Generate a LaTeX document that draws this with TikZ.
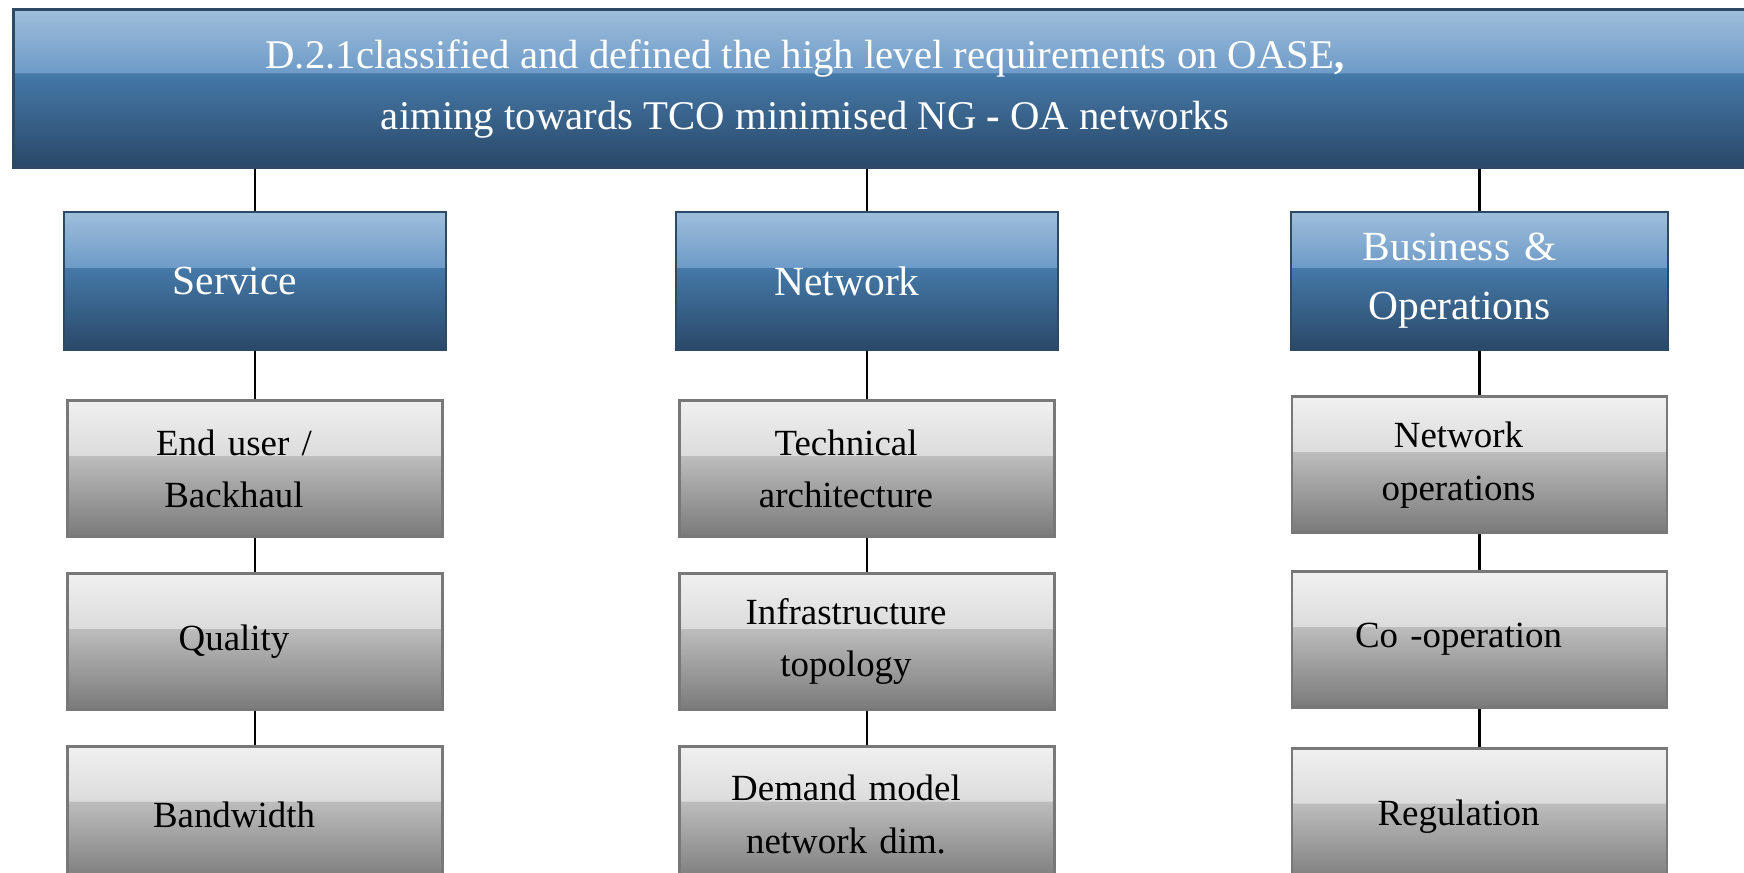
\documentclass[tikz,border=0pt]{standalone}
\usepackage{fontspec}
\setmainfont{Liberation Serif}
\usepackage{xcolor}
\usetikzlibrary{positioning}

\definecolor{bluetop}{HTML}{9FBEDA}
\definecolor{blueup}{HTML}{6E9BC8}
\definecolor{bluelow}{HTML}{4579A8}
\definecolor{bluebot}{HTML}{2A4868}
\definecolor{blueedge}{HTML}{2C4A66}
\definecolor{greytop}{HTML}{F0F0F0}
\definecolor{greyup}{HTML}{DCDCDC}
\definecolor{greylow}{HTML}{BDBDBD}
\definecolor{greybot}{HTML}{7A7A7A}
\definecolor{greyedge}{HTML}{787878}

\pgfdeclareverticalshading{bluegloss}{100bp}{color(0bp)=(bluebot); color(25bp)=(bluebot); color(54.8bp)=(bluelow); color(55bp)=(blueup); color(75bp)=(bluetop); color(100bp)=(bluetop)}
\pgfdeclareverticalshading{greygloss}{100bp}{color(0bp)=(greybot); color(25bp)=(greybot); color(54.8bp)=(greylow); color(55bp)=(greyup); color(75bp)=(greytop); color(100bp)=(greytop)}

\begin{document}
\begin{tikzpicture}[
  head/.style={draw=blueedge, line width=0.8pt, shading=bluegloss, minimum width=3.82cm, minimum height=1.38cm, text=white, text width=3.4cm, align=center, execute at begin node={\leftskip=0pt plus 1fill\rightskip=0.4cm plus 1fill\parfillskip=0pt\relax}, font=\fontsize{11.8}{16.8}\selectfont},
  sub/.style={draw=greyedge, line width=0.8pt, shading=greygloss, minimum width=3.75cm, minimum height=1.36cm, text width=3.4cm, align=center, execute at begin node={\leftskip=0pt plus 1fill\rightskip=0.42cm plus 1fill\parfillskip=0pt\relax}, font=\fontsize{10.5}{15}\selectfont},
  link/.style={line width=0.6pt},
  node distance=0.34cm,
]
\useasboundingbox (0,0) rectangle (17.44,-8.73);
\clip (0,0) rectangle (17.44,-8.73);
% title bar
\node[head, minimum width=17.6cm, minimum height=1.58cm, text width=, anchor=north west] (top) at (0.12,-0.08) {};
\node[text=white, align=center, font=\fontsize{11.6}{17.4}\selectfont] (title) at (8.05,-0.89)
  {D.2.1classified and defined the high level requirements on OASE\textbf{,}\\aiming towards TCO minimised NG \textbf{-} OA networks};
% categories
\node[head] (svc) at (2.55,-2.81) {Service};
\node[head] (net) at (8.67,-2.81) {Network};
\node[head, minimum width=3.77cm] (bus) at (14.795,-2.81) {Business \&\\Operations};
% service column
\node[sub, below=0.48 of svc] (enduser) {End user /\\Backhaul};
\node[sub, below=of enduser] (quality) {Quality};
\node[sub, below=of quality] (bandw) {Bandwidth};
% network column
\node[sub, below=0.48 of net] (techarch) {Technical\\architecture};
\node[sub, below=of techarch] (infra) {Infrastructure\\topology};
\node[sub, below=of infra] (demand) {Demand model\\network dim.};
% business column
\node[sub, below=0.44 of bus] (netops) {Network\\operations};
\node[sub, below=0.36 of netops] (coop) {Co -operation};
\node[sub, below=0.38 of coop] (regul) {Regulation};
\draw[link] (top.south -| svc.north) -- (svc);
\draw[link] (top.south -| net.north) -- (net);
\draw[link] (top.south -| bus.north) -- (bus);
\draw[link] (svc) -- (enduser);
\draw[link] (enduser) -- (quality);
\draw[link] (quality) -- (bandw);
\draw[link] (net) -- (techarch);
\draw[link] (techarch) -- (infra);
\draw[link] (infra) -- (demand);
\draw[link] (bus) -- (netops);
\draw[link] (netops) -- (coop);
\draw[link] (coop) -- (regul);
\end{tikzpicture}
\end{document}
